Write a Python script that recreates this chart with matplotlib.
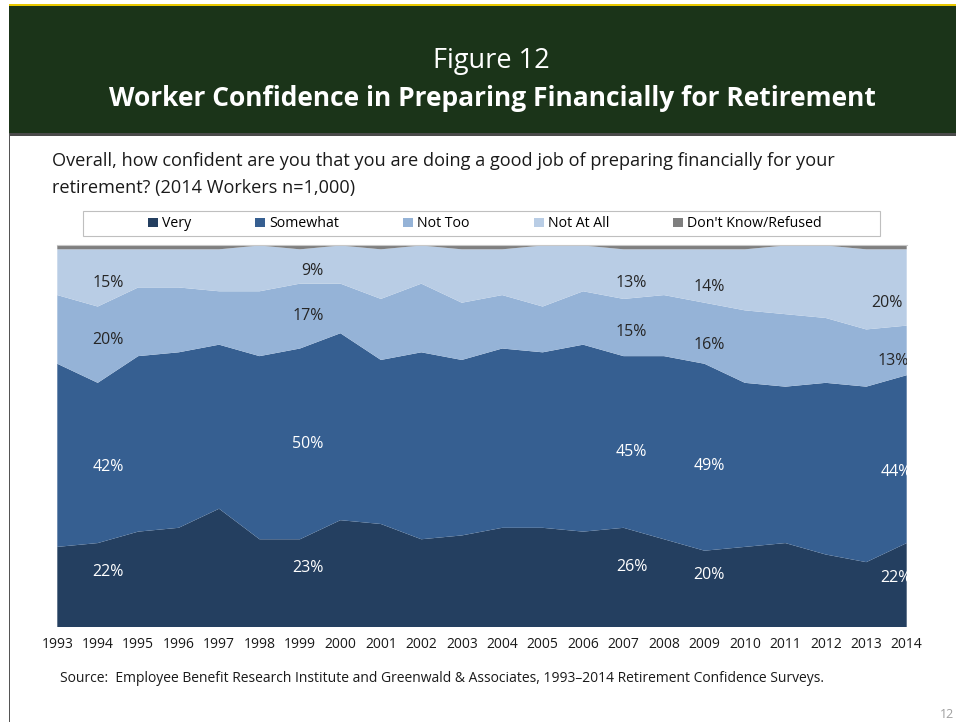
import matplotlib.pyplot as plt
from matplotlib.patches import Rectangle

plt.rcParams['font.family'] = ['Open Sans', 'DejaVu Sans']

# Survey data (percent of workers)
years = list(range(1993, 2015))
very      = [21, 22, 25, 26, 31, 23, 23, 28, 27, 23, 24, 26, 26, 25, 26, 23, 20, 21, 22, 19, 17, 22]
somewhat  = [48, 42, 46, 46, 43, 48, 50, 49, 43, 49, 46, 47, 46, 49, 45, 48, 49, 43, 41, 45, 46, 44]
not_too   = [18, 20, 18, 17, 14, 17, 17, 13, 16, 18, 15, 14, 12, 14, 15, 16, 16, 19, 19, 17, 15, 13]
not_at_all = [12, 15, 10, 10, 11, 12, 9, 10, 13, 10, 14, 12, 16, 12, 13, 12, 14, 16, 18, 19, 21, 20]
dont_know = [1, 1, 1, 1, 1, 0, 1, 0, 1, 0, 1, 1, 0, 0, 1, 1, 1, 1, 0, 0, 1, 1]

series_names = ['Very', 'Somewhat', 'Not Too', 'Not At All', "Don't Know/Refused"]
colors = ['#243F60', '#365F91', '#95B3D7', '#B9CDE5', '#7F7F7F']

# years that carry data labels, and where the labels sit (very, somewhat, not too, not at all)
label_years = [1994, 1999, 2007, 2009, 2014]
label_x = [[1994.25] * 4,
           [1999.2, 1999.2, 1999.2, 1999.3],
           [2007.2] * 4,
           [2009.11] * 4,
           [2013.74, 2013.74, 2013.66, 2013.52]]
label_y = [[14.4, 42.0, 75.3, 90.3],
           [15.5, 48.0, 81.6, 93.2],
           [15.7, 45.9, 77.2, 90.3],
           [13.6, 42.3, 73.8, 89.0],
           [12.9, 40.7, 69.6, 85.0]]

fig = plt.figure(figsize=(9.56, 7.22), dpi=100)
W, H = 956, 722

# header band
fig.add_artist(Rectangle((9 / W, 1 - 134 / H), 1, 129 / H, transform=fig.transFigure,
                         facecolor='#1B3419', edgecolor='none'))
fig.add_artist(Rectangle((9 / W, 1 - 136 / H), 1, 2.5 / H, transform=fig.transFigure,
                         facecolor='#4A4A4A', edgecolor='none'))
fig.add_artist(Rectangle((9 / W, 1 - 5.5 / H), 1, 1.5 / H, transform=fig.transFigure,
                         facecolor='#E8C800', edgecolor='none'))
fig.add_artist(Rectangle((9 / W, 0), 1.2 / W, 1 - 134 / H, transform=fig.transFigure,
                         facecolor='#555555', edgecolor='none'))

fig.text(491 / W, 1 - 61 / H, 'Figure 12', color='white', fontsize=19.5,
         ha='center', va='center')
fig.text(492 / W, 1 - 99 / H, 'Worker Confidence in Preparing Financially for Retirement',
         color='white', fontsize=19, fontweight='bold', ha='center', va='center')

fig.text(52 / W, 1 - 161 / H,
         'Overall, how confident are you that you are doing a good job of preparing financially for your',
         fontsize=13.1, color='#1A1A1A', ha='left', va='center')
fig.text(52 / W, 1 - 188 / H, 'retirement? (2014 Workers n=1,000)',
         fontsize=13.1, color='#1A1A1A', ha='left', va='center')

# chart
ax = fig.add_axes([57.3 / W, 1 - 627 / H, (906.7 - 57.3) / W, (627 - 245.5) / H])
polys = ax.stackplot(years, very, somewhat, not_too, not_at_all, dont_know,
                     colors=colors, labels=series_names, linewidth=0)
ax.axhline(100.2, color='#C8C8C8', lw=0.8, clip_on=False)
ax.set_xlim(1993, 2014)
ax.set_ylim(0, 100)
ax.set_xticks(years)
ax.set_xticklabels([str(y) for y in years], fontsize=10, color='#1A1A1A')
ax.tick_params(axis='x', length=0, pad=7)
ax.set_yticks([])
for s in ax.spines.values():
    s.set_visible(False)

# data labels
for i, yr in enumerate(label_years):
    k = years.index(yr)
    vals = [very[k], somewhat[k], not_too[k], not_at_all[k]]
    for j in range(4):
        c = 'white' if j < 2 else '#262626'
        ax.text(label_x[i][j], label_y[i][j], f'{vals[j]}%', color=c, fontsize=11.5,
                ha='center', va='center', clip_on=True)

# legend
fig.add_artist(Rectangle((83 / W, 1 - 236 / H), (880 - 83) / W, 25 / H, transform=fig.transFigure,
                         facecolor='white', edgecolor='#BFBFBF', lw=0.8))
fig.legend(polys, series_names, loc='center', bbox_to_anchor=(485 / W, 1 - 224 / H),
           ncol=5, frameon=False, fontsize=10.2, handlelength=0.7, handleheight=0.7,
           handletextpad=0.3, columnspacing=4.5, borderpad=0)

fig.text(60 / W, 1 - 678 / H,
         'Source:  Employee Benefit Research Institute and Greenwald & Associates, 1993\u20132014 Retirement Confidence Surveys.',
         fontsize=10, color='#1A1A1A', ha='left', va='center')
fig.text(954 / W, 1 - 714 / H, '12', fontsize=9, color='#A0A0A0', ha='right', va='center')

fig.savefig('out.png', dpi=100)
